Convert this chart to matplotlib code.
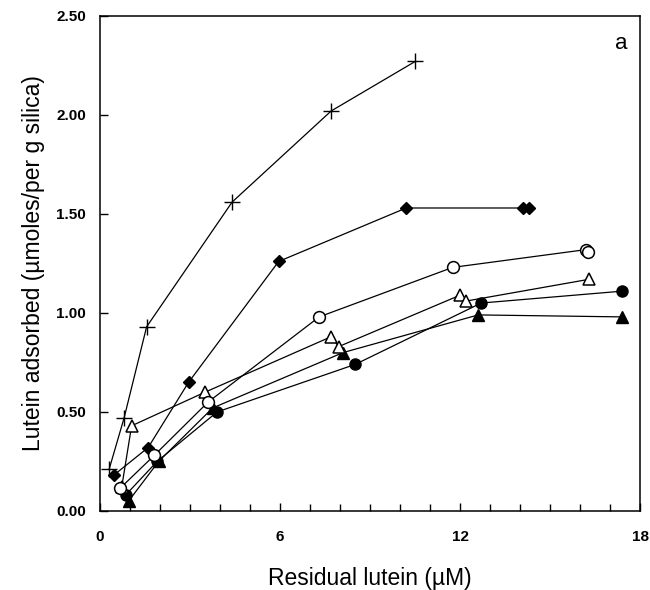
import matplotlib
matplotlib.use('Agg')
import matplotlib.pyplot as plt
from matplotlib.ticker import MultipleLocator, FormatStrFormatter

plt.rcParams['font.family'] = ['Liberation Sans', 'DejaVu Sans']

# residual lutein (uM) vs lutein adsorbed (umoles / g silica)
plus_x = [0.3, 0.8, 1.55, 4.4, 7.7, 10.5]
plus_y = [0.21, 0.47, 0.93, 1.56, 2.02, 2.27]

diamond_x = [0.45, 1.6, 2.95, 5.95, 10.2, 14.1, 14.3]
diamond_y = [0.18, 0.32, 0.65, 1.26, 1.53, 1.53, 1.53]

ocircle_x = [0.67, 1.8, 3.6, 7.3, 11.75, 16.2, 16.25]
ocircle_y = [0.115, 0.28, 0.55, 0.98, 1.23, 1.32, 1.31]

otri_x = [0.72, 1.05, 3.5, 7.7, 7.95, 12.0, 12.2, 16.3]
otri_y = [0.12, 0.43, 0.60, 0.88, 0.83, 1.09, 1.06, 1.17]

ftri_x = [0.95, 1.95, 3.75, 8.1, 12.6, 17.4]
ftri_y = [0.05, 0.25, 0.52, 0.80, 0.99, 0.98]

fcircle_x = [0.85, 1.9, 3.9, 8.5, 12.7, 17.4]
fcircle_y = [0.08, 0.25, 0.50, 0.74, 1.05, 1.11]

fig = plt.figure(figsize=(6.5, 5.9), dpi=100)
ax = fig.add_axes([0.154, 0.134, 0.831, 0.839])

lw = 0.9
ax.plot(plus_x, plus_y, color='black', lw=lw, marker='+', ms=11, mew=1.0)
ax.plot(diamond_x, diamond_y, color='black', lw=lw, marker='D', ms=6, mfc='black', mec='black')
ax.plot(ftri_x, ftri_y, color='black', lw=lw, marker='^', ms=8, mfc='black', mec='black')
ax.plot(fcircle_x, fcircle_y, color='black', lw=lw, marker='o', ms=8, mfc='black', mec='black')
ax.plot(otri_x, otri_y, color='black', lw=lw, marker='^', ms=8.5, mfc='white', mec='black', mew=1.1)
ax.plot(ocircle_x, ocircle_y, color='black', lw=lw, marker='o', ms=8.5, mfc='white', mec='black', mew=1.1)

ax.set_xlim(0, 18)
ax.set_ylim(0, 2.5)
ax.xaxis.set_major_locator(MultipleLocator(6))
ax.xaxis.set_minor_locator(MultipleLocator(1))
ax.yaxis.set_major_locator(MultipleLocator(0.5))
ax.yaxis.set_major_formatter(FormatStrFormatter('%.2f'))
ax.tick_params(which='both', direction='in', top=False, right=False)
ax.tick_params(which='major', length=6, width=1, labelsize=11, pad=14)
ax.tick_params(which='minor', length=5, width=1)
for lab in ax.get_xticklabels() + ax.get_yticklabels():
    lab.set_fontweight('bold')
ax.tick_params(axis='y', pad=10)

for sp in ax.spines.values():
    sp.set_linewidth(1.1)

ax.set_xlabel('Residual lutein (\u00b5M)', fontsize=16.5, labelpad=16)
ax.set_ylabel('Lutein adsorbed (\u00b5moles/per g silica)', fontsize=16.5, labelpad=8)
ax.text(0.965, 0.945, 'a', transform=ax.transAxes, fontsize=16, ha='center', va='center')

plt.savefig('out.png', dpi=100)
plt.close()
